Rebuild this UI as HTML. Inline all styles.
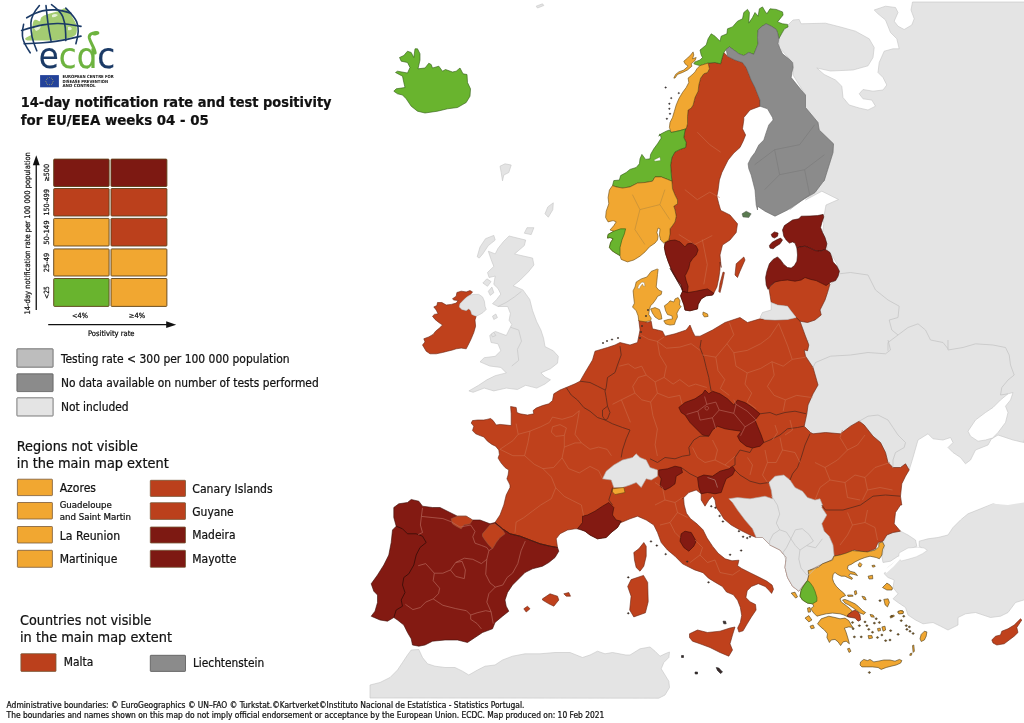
<!DOCTYPE html>
<html><head><meta charset="utf-8"><title>14-day notification rate and test positivity for EU/EEA</title>
<style>
html,body{margin:0;padding:0;background:#fff;}
body{width:1024px;height:723px;overflow:hidden;position:relative;font-family:"DejaVu Sans Condensed","Liberation Sans",sans-serif;}
svg{position:absolute;left:0;top:0;}
text{font-family:"DejaVu Sans Condensed","Liberation Sans",sans-serif;fill:#111;}
#legend text{stroke:#111;stroke-width:0.22px;}
#logo text{stroke:none;}
#map,#legend{filter:blur(0.35px);}
</style></head><body>
<svg width="1024" height="723" viewBox="0 0 1024 723" stroke-linejoin="round">
<g id="map">
<path d="M788,25 793,20 799.2,19.5 801,23.8 825.5,23.2 840.5,27 855.5,31.2 869.2,38.8 874.2,47.5 873,57.5 868,65.8 853,70 830.5,71 816.8,68 824.2,74.5 835.5,80 841.8,86.2 843,97.5 849.2,105 859.2,108 868,110 875.5,106.2 871.8,100 863,98.8 859.2,93.8 863,89.5 873,91.2 883,90 886.8,85 883,77.5 878,72.5 879.2,62.5 884.2,51.2 893,48.8 899.2,48.8 896.8,38.8 890.5,32.5 885.5,20 878,13.8 874.2,10 885.5,6.2 895.5,7.5 898,12.5 894.2,21.2 898,26.2 904.2,29.5 911.8,25 914.2,18.8 911,10 912.5,2 1032,2 1032,402 1023.8,442.5 1013,440 998,435 991.8,438.8 998,432.5 1005.5,422.5 1008,412.5 1005.5,406.2 1010.5,400 1013,392.5 1008,393.8 1000.5,400 993,407.5 985.5,412.5 975.5,420 968,431.2 970.5,436.2 978,441.2 985.5,440 991.8,438.2 988,445 975.5,450 970.5,460 965.5,463.8 960.5,457.5 953,452.5 948,447.5 953,442.5 950.5,437.5 943,440 933,438.8 928,433.8 918,440 913,457.5 909.2,470 905.5,463.8 900.5,467.5 893,467.5 888,462.5 885.5,452.5 880.5,442.5 873,436.2 864.2,425 859.2,421.2 850.5,426.2 840.5,433.8 825.5,432.5 813,433.8 810.5,432.5 804.2,426.2 806.8,413.8 808,405 813,393.8 818,385 813,367.5 805.5,356.2 804.2,350 808,340 807.5,350.8 808.8,345 805,335 800,321.2 807.5,322.5 815,320 821.2,315 820,310 825,300 827.5,292.5 830,285 836.2,278.8 839.5,271.2 836.2,262.5 832.5,256.2 827.5,250 826.2,242.5 822.5,232.5 823.8,223.8 822.5,214.5 824.2,215 826,205 838.5,199.5 821.8,191.2 805.5,200 815,192.5 822.5,182.5 826.2,170 824.2,180.8 833,152.5 833.5,143.8 819.2,130 818,122.5 805.5,107.5 805.5,95 793,75 793,62.5 779.2,47.5 779.2,37.5Z" fill="#e4e4e4" stroke="#c4c4c4" stroke-width="0.6"/>
<path d="M883.5,542 886.8,535 893,532.5 900.5,531.2 908,535 915.5,540 916.8,546.2 910.5,548.8 903,552.5 898,556.2 890.5,561.2 883,562.5 881.8,556.2 884.2,548.8Z" fill="#e4e4e4" stroke="#c4c4c4" stroke-width="0.6"/>
<path d="M919.2,541.2 928,538.8 938,537.5 948,535 953,527.5 960.5,520 968,513.8 980.5,508.8 993,503.8 1003,506.2 1018,507.5 1023.8,506.2 1032,506 1032,597.5 1015.5,602.5 1008,612.5 1000.5,616.2 990.5,617.5 983,615 975.5,612.5 965.5,613.8 958,617.5 958,625 948,630 940.5,626.2 933,622.5 923,623.8 915.5,620 908,615 905.5,607.5 898,602.5 893,598.8 898,593.8 893,587.5 894.2,580 888,577.5 884.2,573.8 888,567.5 895.5,561.2 903,557.5 910.5,553.8 918,551.2 923,548.8 919.2,546.2Z" fill="#e4e4e4" stroke="#c4c4c4" stroke-width="0.6"/>
<path d="M960.5,520.8 968,515 980.5,510 993,503.8 1008,505 1023.8,502.5 1032,502 1032,530 960,530Z" fill="#e4e4e4" stroke="none" stroke-width="0"/>
<path d="M370,685 380,682.5 390,677.5 397.5,670 402.5,662.5 407.5,655 411.2,650 418.8,649.5 422.5,657.5 427.5,663.8 435,666.2 445,667.5 455,667.5 462.5,671.2 468.8,675 477.5,670 485,666.2 495,665 502.5,660 512.5,656.2 525,653.8 540,653.8 555,652.5 570,652.5 582.5,657.5 590,655 597.5,651.2 605,653.8 612.5,652.5 625.8,655 630,655 640,648.8 650,647 655,651.2 660,656.2 665,653.8 669.5,652 668.8,657.5 663.8,662.5 661.2,668.8 665,675 668.8,681.2 669.5,687.5 665,695 658.8,698.2 370,698Z" fill="#e4e4e4" stroke="#c4c4c4" stroke-width="0.6"/>
<path d="M509.1,236 525.7,240.1 524.3,245.6 514.6,253.9 520.1,255.3 532.6,258.1 533.9,265 528.4,271.9 520.1,280.2 513.2,285.8 522.9,289.9 529.8,299.6 532.6,310.7 536.7,321.7 540.9,330 543.6,338.3 545,346.6 553.3,350.8 558.3,356.3 557.5,363.2 550.5,368.7 540.9,372.9 545,377 550.5,379.8 545,384 536.7,388.1 525.7,385.3 517.4,389.5 506.3,388.1 493.8,390.9 484.2,388.1 473.1,392.3 468.9,390.9 478.6,385.3 486.9,379.8 495.2,375.7 506.3,372.9 500.8,367.4 489.7,366 480,361.8 484.2,357.7 495.2,356.3 500.8,350.8 498,343.8 491.1,342.5 489.7,335.5 495.2,331.4 506.3,335.5 510.4,327.2 511.8,324.5 509.1,320.3 510.4,313.4 507.7,306.5 498,306.5 492.5,303.7 496.6,299.6 500.8,294.1 498,288.5 493.8,284.4 495.2,276.1 489.1,277.5 487.5,272.5 493.8,266.4 491.1,259.5 488.3,251.2 495.2,253.9 498,248.4 503.5,241.5Z" fill="#e4e4e4" stroke="#c4c4c4" stroke-width="0.6"/>
<path d="M477.2,256.7 480,247 485.5,238.7 493.8,235.4 495.2,240.1 488.3,245.6 482.8,253.9 479.2,258.1Z" fill="#e4e4e4" stroke="#c4c4c4" stroke-width="0.6"/>
<path d="M524.3,233.2 527,227.7 533.9,227.7 531.2,234.6Z" fill="#e4e4e4" stroke="#c4c4c4" stroke-width="0.6"/>
<path d="M545,213.8 547.8,206.9 553.3,202.8 552.8,209.7 548.3,217.2Z" fill="#e4e4e4" stroke="#c4c4c4" stroke-width="0.6"/>
<path d="M482.8,283 486.9,278.8 491.1,281.6 487.5,286.3Z" fill="#e4e4e4" stroke="#c4c4c4" stroke-width="0.6"/>
<path d="M488.3,291.3 491.9,287.1 493.8,292.7 490.2,295.4Z" fill="#e4e4e4" stroke="#c4c4c4" stroke-width="0.6"/>
<path d="M492.5,316.2 495.8,314 497.4,317.6 493.8,319.5Z" fill="#e4e4e4" stroke="#c4c4c4" stroke-width="0.6"/>
<path d="M491.1,334.2 493.8,332.2 495.8,335.5 492.5,336.9Z" fill="#e4e4e4" stroke="#c4c4c4" stroke-width="0.6"/>
<path d="M500,166.2 505,163.8 511.2,165 508.8,172.5 503.8,175 502.5,180.8 501.2,172.5Z" fill="#e4e4e4" stroke="#c4c4c4" stroke-width="0.6"/>
<path d="M536.2,6.2 542.5,3.8 543.8,5.5 537.5,8Z" fill="#e4e4e4" stroke="#c4c4c4" stroke-width="0.6"/>
<path d="M566.2,387.5 575,383.8 580,381.2 585,372.5 592.5,360 595,351.2 607.5,347.5 615,345 620,342.5 630,345 637.5,342.5 640,330 638.8,320 640,320 647.5,322.5 651.2,321.2 652.5,328.8 662.5,331.2 665,336.2 675,333.8 686.2,330 690,325 692.5,331.2 695,336.2 700,336.2 712.5,330 725,322.5 740,317.5 747.5,322.5 760,318.8 765,319.5 775,320 787.5,319.5 796.2,317.5 791.2,311.2 787.5,306.2 777.5,305 771.2,302.5 768.8,287.5 777.5,280 787.5,278.8 797.5,278.8 805,276.2 812.5,275 822.5,278.8 830,283.8 827.5,292.5 825,300 820,310 821.2,315 815,320 807.5,322.5 800,321.2 805,335 808.8,345 807.5,350.8 804.2,350 805.5,356.2 813,367.5 818,385 813,393.8 808,405 806.8,413.8 804.2,426.2 810.5,432.5 813,433.8 825.5,432.5 840.5,433.8 850.5,426.2 859.2,421.2 864.2,425 873,436.2 880.5,442.5 885.5,452.5 888,462.5 893,467.5 900.5,467.5 905.5,463.8 909.2,470 905.5,476.2 901.8,483.8 900.5,496.2 901.8,505 900.5,505 895.5,512.5 894.2,523.8 900.5,531.2 893,532.5 886.8,535 883,541.2 878,542.5 875.5,548.8 865.5,552.5 854.2,550 845.5,553.8 834.2,556.2 831.2,560 820,565 810,570 807.5,580 802.5,586.2 798.8,591.2 792.5,586.2 787.5,577.5 785,567.5 786.2,557.5 780,550 770,545 762.5,537.5 756.2,537.5 750,535 740,530 731.2,525 723.8,518.8 720,512.5 716.2,507.5 715,500 712.5,496.2 708.8,500 705,506.2 701.2,500 701.2,493.8 696.2,490 688.8,492.5 682.5,498.8 683.6,498 684.2,504.9 686.4,513.2 690.5,518.7 697.5,524.3 703,529.8 707.1,538.1 712.7,546.4 718.2,553.3 725.1,558.8 732,560.8 738.9,560.2 737.6,565.8 741.7,568.5 750,572.7 758.3,576.8 766.6,581 772.1,585.1 773.5,589.3 771.6,593.4 769.4,590.7 765.2,586.5 758.3,583.7 751.4,586.5 747.2,590.7 745.9,597.6 750,601.7 755.5,604.5 756.1,610 751.4,616.9 747.2,623.8 743.1,630.8 738.9,632.1 737.6,628 740.3,622.5 741.7,615.5 740.3,607.2 737.6,600.3 733.4,594.8 726.5,592 722.4,586.5 715.4,582.4 708.5,578.2 703,572.7 694.7,569.9 686.4,565.8 682.5,563.8 675,556.2 667.5,550 661.2,542.5 657.5,532.5 653.8,525 646.2,520 637.5,516.2 630,518.8 621.2,522.5 621.2,521.2 617.5,527.5 611.2,532.5 606.2,537.5 597.5,538.8 590,535 585,531.2 580,528.8 575,528.8 567.5,530 560,533.8 556.2,538.8 557.5,547.5 557.5,547.5 550,546.2 540,543.8 530,540 520,536.2 510,533.8 502.5,528.8 495,522.5 500,515 503.8,505 506.2,495 510,487.5 510,485 508.8,482.5 506.9,478.8 508.1,475 508.8,470 505,467.5 501.2,463.1 498.1,458.1 499.4,454.4 498.8,450 495.6,446.2 491.9,444.4 487.5,441.2 483.8,436.9 480,435.6 475.6,433.8 472.5,430.6 473.8,426.2 471.2,423.1 472.5,420.6 477.5,420 483.8,420 486.9,419.4 490.6,418.5 493.1,420.6 496.2,425 500,424.4 506.2,425 511.2,425.6 511.2,413.8 510.6,406.5 516.2,407.5 516.9,412.5 520,413.8 527.5,415 533.8,413.8 533.1,410.6 536.2,408.1 542.5,405.6 548.8,403.8 552.5,400.6 553.8,393.8 560,390Z" fill="#bf411c" stroke="#6a2410" stroke-width="0.6"/>
<path d="M760,317.5 762.5,312.5 771.2,310 771.2,302.5 777.5,305 787.5,306.2 791.2,311.2 796.2,317.5 787.5,319.5 775,320 765,319.5Z" fill="#e4e4e4" stroke="#c4c4c4" stroke-width="0.6"/>
<path d="M728.8,498.8 737.5,497.5 750,498.8 765,496.2 772.5,498.8 771.2,490 768.8,482.5 775,476.2 783.8,475 790,480 795,487.5 802.5,491.2 807.5,497.5 815,500 820,498.8 822.5,505 821.8,507.5 826.8,515 821.8,523.8 824.2,531.2 829.2,536.2 833,545 834.2,556.2 831.2,560 820,565 810,570 807.5,580 802.5,586.2 798.8,591.2 792.5,586.2 787.5,577.5 785,567.5 786.2,557.5 780,550 770,545 762.5,537.5 756.2,537.5 752.5,528.8 745,520 737.5,510 732.5,502.5Z" fill="#e4e4e4" stroke="#b0a8a4" stroke-width="0.6"/>
<path d="M602.5,478.8 606.2,471.2 613.8,465 622.5,460 632.5,457.5 636.2,453.8 640,457.5 646.2,460 650,467.5 657.5,470 657.5,476.2 651.2,480 646.2,478.8 641.2,487.5 636.2,482.5 630,485 622.5,487.5 613.8,487.5 611.2,480Z" fill="#e4e4e4" stroke="#b0a8a4" stroke-width="0.6"/>
<path d="M393.8,507.5 398.8,503.8 407.5,502.5 411.2,499.5 418.8,501.2 422.5,506.2 432.5,507.5 440,507.5 450,512.5 457.5,516.2 466.2,516.2 472.5,520 480,520 490,523.8 495,522.5 502.5,528.8 510,533.8 520,536.2 530,540 540,543.8 550,546.2 557.5,547.5 558.8,551.2 555,557.5 548.8,562.5 542.5,566.2 532.5,568.8 525,572.5 520,577.5 512.5,585 507.5,592.5 505,600 506.2,606.2 508.8,611.2 502.5,616.2 495,622.5 492.5,628.8 482.5,632.5 475,637.5 467.5,642.5 457.5,640 445,640 432.5,641.2 425,645 418.8,646.2 412.5,645 411.2,638.8 407.5,632.5 403.8,625 397.5,620 393.8,617.5 387.5,621.2 380,620 371.2,616.2 375,611.2 377.5,602.5 377.5,595 373.8,591.2 371.2,583.8 377.5,575 383.8,565 388.8,555 391.2,542.5 392.5,530 396.2,526.2 393.8,517.5Z" fill="#831a12" stroke="#3d0b07" stroke-width="0.6"/>
<path d="M451.2,518.8 457.5,516.2 466.2,516.2 472.5,520 470,523.8 463.8,525 461.2,528.8 456.2,526.2 452.5,523.8Z" fill="#bf411c" stroke="#9a5a40" stroke-width="0.6"/>
<path d="M482.5,533.8 490,525 495,523.8 502.5,530 505,533.8 500,537.5 496.2,542.5 492.5,548.8 488.8,545 485,540 482.5,536.2Z" fill="#bf411c" stroke="#9a5a40" stroke-width="0.6"/>
<path d="M542.5,598.8 550,593.8 557.5,596.2 558.8,600 553.8,606.2 548.8,603.8 542.5,600Z" fill="#bf411c" stroke="#6a2410" stroke-width="0.6"/>
<path d="M563.8,593.8 568.8,592.5 570.5,596.2 566.2,596.2Z" fill="#bf411c" stroke="#6a2410" stroke-width="0.6"/>
<path d="M523.8,608.8 527.5,606.2 530,608.8 526.2,612Z" fill="#bf411c" stroke="#6a2410" stroke-width="0.6"/>
<path d="M396.2,526.2 402.5,528.8 407.5,533.8 416.2,533.8 422.5,536.2 426.2,542.5 420,547.5 416.2,555 413.8,565 408.8,573.8 403.8,577.5 402.5,585 405,592.5 401.2,600 402.5,606.2 396.2,610 393.8,617.5" fill="none" stroke="#3d0d08" stroke-width="0.9"/>
<path d="M557.5,547.5 550,546.2 540,543.8 530,540 520,536.2 510,533.8 502.5,528.8 495,522.5" fill="none" stroke="#4a1a10" stroke-width="0.8"/>
<path d="M577.5,528.8 582.5,522.5 582.5,516.2 587.5,515 595,511.2 602.5,506.2 608.8,502.5 613.8,507.5 612.5,515 616.2,520 621.2,521.2 617.5,527.5 611.2,532.5 606.2,537.5 597.5,538.8 590,535 585,531.2Z" fill="#831a12" stroke="#3d0b07" stroke-width="0.6"/>
<path d="M612.5,488.8 623.8,487.5 625,492.5 615,494.5 612.5,492Z" fill="#f1a731" stroke="#6a4a10" stroke-width="0.6"/>
<path d="M678.8,407.5 685,402.5 695,398.8 702.5,393.8 705,390 708.8,393.8 712.5,391.2 720,393.8 727.5,398.8 733.8,405 737.5,400 745,402.5 752.5,407.5 760,413.8 755,420 757.5,426.2 761.2,435 763.8,442.5 760,446.2 752.5,448 746.2,446.2 740,441.2 737.5,436.2 741.2,431.2 732.5,430 725,428.8 717.5,426.2 712.5,430 708.8,436.2 702.5,435 697.5,430 690,422.5 685,415 681.2,412.5Z" fill="#831a12" stroke="#3d0b07" stroke-width="0.6"/>
<path d="M658.8,470 667.5,468.8 675,466.2 681.2,467.5 682.5,472.5 676.2,476.2 675,483.8 670,487.5 665,490 660,486.2 661.2,478.8 658.8,475Z" fill="#831a12" stroke="#3d0b07" stroke-width="0.6"/>
<path d="M697.5,477.5 703.8,475 712.5,476.2 720,471.2 728.8,468.8 732.5,466.2 735,470 732.5,475 726.2,478.8 723.8,485 721.2,492.5 715,493.8 707.5,492.5 701.2,493.8 698.8,487.5Z" fill="#831a12" stroke="#3d0b07" stroke-width="0.6"/>
<path d="M681.2,533.8 685,531.2 691.2,532.5 696.2,541.2 693.8,546.2 688.8,551.2 683.8,547.5 680,541.2Z" fill="#831a12" stroke="#3d0b07" stroke-width="0.6"/>
<path d="M633.8,552.5 638.8,548.8 643.8,542.5 646.2,546.2 646.2,556.2 643.8,566.2 640,571.2 636.2,567.5 634.5,560Z" fill="#bf411c" stroke="#6a2410" stroke-width="0.6"/>
<path d="M631.1,579.6 643.5,575.4 647.7,582.4 648.2,601.7 645.4,612.8 633.8,616.9 629.7,610 631.1,596.2 627.7,586.5Z" fill="#bf411c" stroke="#6a2410" stroke-width="0.6"/>
<path d="M689.5,633.8 697.5,630 707.5,632.5 720,631.2 730,628 735,627 732.5,635 730,643.8 732.5,650 728.8,656.2 720,652.5 710,647.5 700,643.8 692.5,641.2 689.5,637.5Z" fill="#bf411c" stroke="#6a2410" stroke-width="0.6"/>
<path d="M716.2,667.5 718.8,668 722.5,672 720.5,673.5 717.5,670.5Z" fill="#3a2a2a" stroke="#222" stroke-width="0.6"/>
<path d="M695,672 697.5,672 697.5,674 695.2,674Z" fill="#3a2a2a" stroke="#222" stroke-width="0.6"/>
<path d="M681.5,655.5 683.5,655.5 683.5,657.5 681.5,657.5Z" fill="#3a2a2a" stroke="#222" stroke-width="0.6"/>
<path d="M723,621.2 725.5,621.2 726.2,623.8 723.8,623.8Z" fill="#3a2a2a" stroke="#222" stroke-width="0.6"/>
<path d="M452.5,298.8 456.2,296.2 456.9,292.5 461.2,291.2 466.2,291.9 470,290.6 472.5,291.9 470,295 466.2,297.5 463.1,300.6 460,303.8 459.4,306.9 461.9,309.4 466.2,310.6 468.8,308.8 470.6,310.6 471.9,314.4 476.2,316.2 475,320 475.6,326.2 473.8,332.5 471.2,338.8 468.8,343.8 466.2,348.8 461.2,348.1 456.2,348.8 452.5,350 447.5,351.2 442.5,352.5 436.2,353.8 430,353.8 426.2,351.2 422.5,345 425,341.9 423.8,338.8 428.8,336.9 433.1,334.4 435.6,331.2 439.4,328.1 442.5,325 438.8,322.5 435,319.4 432.5,316.2 434.4,314.4 438.1,313.8 436.2,310 433.8,306.9 436.9,305.6 437.5,302.5 441.9,302.5 446.2,305 451.2,304.4 456.2,303.1 458.1,300.6 453.8,300Z" fill="#bf411c" stroke="#6a2410" stroke-width="0.6"/>
<path d="M463.1,300.6 466.2,297.5 470,295 473.8,294.4 478.8,294.4 482.5,296.9 484.4,301.2 485,306.2 486.2,309.4 483.1,312.5 480,314.4 476.2,316.2 471.9,314.4 470.6,310.6 468.8,308.8 466.2,310.6 461.9,309.4 459.4,306.9 460,303.8Z" fill="#e4e4e4" stroke="#c4c4c4" stroke-width="0.6"/>
<path d="M657.5,268.9 651.2,271.4 646.9,277 641.2,278.9 636.2,282 635,287 633.1,290.8 633.8,298.2 634.4,303.2 632.5,307 636.2,310.8 638.1,315.8 638.8,320.8 645,321.8 650.6,320.8 651.2,318.2 648.8,314.5 649.4,309.5 650.6,305.8 653.1,303.2 656.2,298.9 657.5,296.4 661.2,294.5 661.9,291.4 658.8,290.1 656.2,287 656.9,280.8 657.5,274.5 658.1,269.5Z" fill="#f1a731" stroke="#6a4a10" stroke-width="0.6"/>
<path d="M650.6,308.9 655,307.6 659.4,309.5 661.2,314.5 661.9,318.9 658.8,319.5 655,317 652.5,313.2Z" fill="#f1a731" stroke="#6a4a10" stroke-width="0.6"/>
<path d="M664.4,305.8 668.1,303.2 670,300.8 673.8,302 675,298.9 678.1,297.6 680,300.8 679.4,305.1 681.2,306.4 678.8,309.5 676.9,313.2 677.5,317 675.6,320.8 674.4,324.5 670,325.1 665.6,323.9 663.8,320.8 668.1,319.5 672.5,318.9 671.9,315.8 667.5,314.5 665.6,310.8Z" fill="#f1a731" stroke="#6a4a10" stroke-width="0.6"/>
<path d="M703.1,312 707.5,313.9 708.1,316.4 704.4,317 702.8,314.5Z" fill="#f1a731" stroke="#6a4a10" stroke-width="0.6"/>
<path d="M638.8,285.1 641.9,282 644.4,282.6 645,286.4 643.1,285.8 642.5,283.9 640.6,286.4 639.4,288.9 637.5,288.2Z" fill="#fff" stroke="#8a6a30" stroke-width="0.4"/>
<path d="M723.8,52.5 727.5,56.2 735,60 742.5,62.5 746.2,67.5 748.8,73.8 751.2,80 755,87.5 760,100 760,106.2 750,110 743.8,117.5 743.8,120 742.5,128.8 745.6,135 743.1,141.2 740,147.5 733.8,153.1 728.1,160 725,166.2 721.9,172.5 719.4,180 718.1,190 716.9,196.2 718.8,203.8 720.6,210 720,210 730,215 737.5,223.8 736.2,232.5 730,240 722.5,245 720,255 721.2,267.5 720,262 720,269.5 718.8,278.2 716.9,287 713.8,293.2 712.5,295.1 706.2,295.8 701.2,298.9 698.1,304.5 697.5,308.9 690,310.8 685,310.1 683.8,304.5 681.9,299.5 680.6,295.8 682.5,291.4 682.5,290 681.2,285 677.5,280 673.8,273.8 670.6,267.5 668.1,261.2 665.6,253.8 664.4,247.5 665.6,241.9 668.8,240 670,233.8 670,228.8 672.5,225.6 675,221.9 676.2,216.2 675,210 673.8,206.2 677.5,203.8 677.5,200 675,195 672.5,188.8 671.9,181.2 671.2,173.8 670.6,165 671.9,157.5 675,151.9 680,149.4 685.6,147.5 686.2,142.5 683.8,137.5 685,130 686.2,128.8 687.5,123.8 687.5,116.2 688.1,110 691.2,108.1 693.1,105 695,97.5 698.1,91.2 698.8,85 700.6,78.1 703.8,73.8 707.5,72.5 709.4,68.8 708.1,63.1 715,62.5 720.6,63.8 721.9,58.8 723.8,52.5Z" fill="#bf411c" stroke="#6a2410" stroke-width="0.6"/>
<path d="M665,242.5 670,240.6 675,240 680,241.9 685,246.9 687.5,243.8 692.5,243.1 696.2,246.2 698.1,250 696.2,255 692.5,258.8 690,262.5 688.8,268.1 686.2,273.8 685,275.8 686.2,280.8 688.1,286.4 687.5,292.6 682.5,291.4 681.2,287 677.5,280.8 673.8,274.5 670,268.2 682.5,290 681.2,285 677.5,280 673.8,273.8 670.6,267.5 668.1,261.2 665.6,253.8 664.4,247.5Z" fill="#831a12" stroke="#3d0b07" stroke-width="0.6"/>
<path d="M680.6,295.8 682.5,291.4 687.5,292.6 695,291.4 701.2,290.1 707.5,288.9 713.8,293.2 712.5,295.1 706.2,295.8 701.2,298.9 698.1,304.5 697.5,308.9 690,310.8 685,310.1 683.8,304.5 681.9,299.5Z" fill="#831a12" stroke="#3d0b07" stroke-width="0.6"/>
<path d="M718.8,291.4 720,283.2 723.1,272 724.4,272.6 721.9,285.1 720,292.6Z" fill="#bf411c" stroke="#6a2410" stroke-width="0.6"/>
<path d="M735,275 736.2,263.8 743.8,257 745,260 740,271.2 737.5,277.5Z" fill="#bf411c" stroke="#6a2410" stroke-width="0.6"/>
<path d="M700,65.6 697.5,65 693.8,63.8 695,61.9 700,60 702.5,57.5 701.2,55 700,50 706.2,45 708.1,38.8 711.2,33.8 715,36.2 720,41.2 721.2,36.2 726.9,33.8 727.5,28.8 732.5,26.9 737.5,21.2 742.5,18.8 743.8,12.5 747.5,9.4 749.4,12.5 748.8,23.1 752.5,17.5 755,12.5 758.1,16.2 759.4,8.8 762.5,6.9 765,11.2 766.9,13.8 770,8.8 776.2,9.4 782.5,11.9 783.1,15 777.5,21.9 782.5,23.8 787.5,24.4 788.1,26.9 784.4,28.8 781.9,33.1 778.8,38.8 777.5,32.5 776.2,29.4 771.2,26.2 766.2,23.8 761.2,26.9 758.1,30 757.5,37.5 758.1,43.8 755.6,50 753.8,54.4 748.8,52.5 743.8,55.6 738.8,53.8 733.8,50 729.4,46.9 726.2,49.4 723.8,52.5 721.9,58.8 720.6,63.8 715,62.5 708.1,63.1Z" fill="#69b42e" stroke="#2f5a14" stroke-width="0.6"/>
<path d="M700,65.6 708.1,63.1 709.4,68.8 707.5,72.5 703.8,73.8 700.6,78.1 698.8,85 698.1,91.2 695,97.5 693.1,105 691.2,108.1 688.1,110 687.5,116.2 687.5,123.8 686.2,128.8 680,130.6 671.2,132.5 669.4,127.5 670,122.5 672.5,117.5 674.4,111.2 676.2,105 678.8,98.8 682.5,92.5 686.2,87.5 688.8,82.5 688.1,78.1 691.9,75 695,71.9 696.9,68.8Z" fill="#f1a731" stroke="#6a4a10" stroke-width="0.6"/>
<path d="M673.8,78.1 675.6,74.4 678.8,71.9 683.8,70 688.1,66.2 685,63.8 683.8,61.2 687.5,58.1 690.6,55 693.1,51.9 693.8,55 692.5,58.8 696.2,57.5 695,60.6 691.2,63.8 691.9,66.2 687.5,70 682.5,72.5 677.5,74.4 675,78.1Z" fill="#f1a731" stroke="#6a4a10" stroke-width="0.6"/>
<path d="M686.2,128.8 680,130.6 671.2,132.5 669.4,130 666.2,131.2 661.2,133.8 658.8,136.2 660,133.8 661.2,138.1 657.5,143.8 653.8,148.8 650.6,154.4 650,158.8 645.6,159.4 641.9,154.4 640,158.8 639.4,163.8 636.2,167.5 630,169.4 626.2,172.5 620.6,175.6 619.4,180 613.8,180.6 612.5,185.6 616.2,186.9 622.5,188.1 630,186.9 637.5,183.1 645,182.5 652.5,181.2 655,176.9 661.2,176.9 667.5,179.4 671.9,181.2 671.2,173.8 670.6,165 671.9,157.5 675,151.9 680,149.4 685.6,147.5 686.2,142.5 683.8,137.5 685,130Z" fill="#69b42e" stroke="#2f5a14" stroke-width="0.6"/>
<path d="M653.8,160 660,156.9 660.6,160.6 655,161.2Z" fill="#fff" stroke="#4a7a20" stroke-width="0.4"/>
<path d="M612.5,185.6 609.4,190 608.1,197.5 608.8,203.8 606.2,211.2 605.6,217.5 608.1,221.9 613.1,220.6 616.2,221.9 613.8,225.6 610,230 613.8,231.2 608.1,234.4 607.5,238.1 610,237.5 613.1,238.8 610.6,242.5 609.4,247.5 611.9,250.6 615.6,253.1 620,255.6 621.2,259.4 627.5,261.9 633.8,260 640,256.2 645,251.9 649.4,246.9 655,243.1 657.5,240 658.1,236.2 656.9,232.5 658.1,228.1 660,228.8 659.4,235 660.6,240 663.8,243.1 665.6,241.9 668.8,240 670,233.8 670,228.8 672.5,225.6 675,221.9 676.2,216.2 675,210 673.8,206.2 677.5,203.8 677.5,200 675,195 672.5,188.8 671.9,181.2 667.5,179.4 661.2,176.9 655,176.9 652.5,181.2 645,182.5 637.5,183.1 630,186.9 622.5,188.1 616.2,186.9Z" fill="#f1a731" stroke="#6a4a10" stroke-width="0.6"/>
<path d="M607.5,238.1 608.1,234.4 613.8,231.2 620.6,228.8 625.6,228.8 624.4,233.8 621.9,240 620,247.5 620,255.6 615.6,253.1 611.9,250.6 609.4,247.5 610.6,242.5 613.1,238.8 610,237.5Z" fill="#69b42e" stroke="#2f5a14" stroke-width="0.6"/>
<path d="M726.2,49.4 729.4,46.9 733.8,50 738.8,53.8 743.8,55.6 748.8,52.5 753.8,54.4 755.6,50 758.1,43.8 757.5,37.5 758.1,30 761.2,26.9 766.2,23.8 771.2,26.2 776.2,29.4 777.5,32.5 778.8,38.8 778.1,43.8 780,48.8 782.5,53.8 788.8,58.8 792.5,62.5 793.1,67.5 791.9,72.5 791.2,77.5 796.2,83.8 801.2,90 805.5,95 805.5,107.5 818,122.5 819.2,130 833.5,143.8 833,152.5 824.2,180.8 822.5,182.5 815,192.5 802.5,200 787.5,210 775,216.2 765,211.2 757.5,206.2 757.5,210 756.2,205 755.6,197.5 755,190 753.1,182.5 751.2,175 748.8,168.8 748.1,163.8 751.2,157.5 755,152.5 758.8,145 763.8,140 766.2,132.5 768.8,125 773.1,120 772.5,117.5 767.5,108.8 760,106.2 760,100 755,87.5 751.2,80 748.8,73.8 746.2,67.5 742.5,62.5 735,60 727.5,56.2Z" fill="#8b8b8b" stroke="#666" stroke-width="0.6"/>
<path d="M742,213.8 746.2,211.2 751.2,213.8 748.8,217.5 743,217Z" fill="#5a7a50" stroke="#444" stroke-width="0.4"/>
<path d="M782.5,230 784.4,225.6 788.1,223.1 792.5,220 798.8,218.8 801.2,216.2 810,216 817.5,215.6 823.1,214.4 823.8,216.9 821.9,222.5 820.6,227.5 822.5,232.5 825,237.5 826.9,243.8 825.6,249.4 820,251.2 815,250.6 810,248.1 805,246.2 800,246.9 796.9,248.1 795,243.1 792.5,241.9 789.4,243.1 786.2,240 783.8,236.2 783.1,232.5Z" fill="#831a12" stroke="#3d0b07" stroke-width="0.6"/>
<path d="M771.2,234.4 774.4,231.9 778.1,233.1 777.5,236.2 774.4,238.1 772.2,236.9Z" fill="#831a12" stroke="#3d0b07" stroke-width="0.6"/>
<path d="M769.4,245.6 771.9,242.5 776.2,240 780.6,238.1 782.5,240 780,243.8 776.2,246.2 773.1,248.8 770,248.1Z" fill="#831a12" stroke="#3d0b07" stroke-width="0.6"/>
<path d="M796.9,248.1 800,246.9 805,246.2 810,248.1 815,250.6 820,251.2 825.6,249.4 830,252.5 831.9,257.5 833.1,261.9 836.9,266.2 839.4,271.2 838.1,276.2 835.6,280.6 830,282.5 826.2,285.6 821.2,283.1 816.2,280.6 810.6,279.4 805,277.5 801.2,280 795,281.2 787.5,280 781.2,280.6 775,281.9 770,286.2 768.1,289.4 766.2,285 765.6,277.5 766.9,271.2 769.4,263.8 773.1,259.4 777.5,256.9 780.6,260 783.8,264.4 787.5,267.5 791.2,268.1 794.4,265.6 796.9,261.2 797.5,255Z" fill="#831a12" stroke="#3d0b07" stroke-width="0.6"/>
<path d="M807.5,580.6 808.8,575 808.1,570.6 812.5,569.4 818.8,566.9 822.5,563.8 827.5,561.9 832.5,560 833.8,556.2 840,555 846.2,553.1 852.5,550.6 860,551.2 867.5,551.9 875,550 878.8,546.9 878.8,543.1 882.5,541.9 884.4,545.6 882.5,550 881.9,555 879.4,558.8 876.2,557.5 870,556.2 865,557.5 860,559.4 855,561.9 851.2,564.4 848.1,565.6 847.5,568.8 850,571.2 855,572.5 857.5,575.6 853.8,574.4 850,573.8 848.8,575.6 852.5,578.1 851.9,579.4 847.5,577.5 845,576.2 841.2,576.2 837.5,574.4 835,572.5 833.1,574.4 832.5,578.8 833.8,582.5 836.2,586.2 840,590 843.8,593.1 845.6,595.6 842.5,596.9 840,598.8 841.2,601.9 843.8,603.8 846.9,606.2 850,608.8 852.5,611.2 847.5,615 848.1,616.9 843.8,615 840,613.8 832.5,613.1 826.2,613.8 821.2,615 816.9,616.2 813.8,613.1 810.6,608.8 813.8,606.2 812.5,603.8 807.5,603.1 802.5,600 800,596.2 801.2,590 803.8,585.6Z" fill="#f1a731" stroke="#4a3a1a" stroke-width="0.6"/>
<path d="M800,596.2 801.2,590 803.8,585.6 807.5,580.6 810,582.5 813.1,586.9 815,591.2 816.9,597.5 816.9,601.2 812.5,603.8 807.5,603.1 802.5,600Z" fill="#69b42e" stroke="#3a5a1a" stroke-width="0.6"/>
<path d="M847.5,615 852.5,611.2 855,610 858.1,611.9 860,615 860.6,620 858.1,621.2 855,618.1 851.2,617.5 848.1,616.9Z" fill="#bf411c" stroke="#4a1a10" stroke-width="0.6"/>
<path d="M842.5,600 845,599.4 849.4,601.2 855,603.8 858.1,606.2 862.5,610.6 865.6,612.5 863.8,614.4 860,613.1 856.2,610 852.5,607.5 848.8,605 845,603.1Z" fill="#f1a731" stroke="#4a3a1a" stroke-width="0.6"/>
<path d="M817.5,623.8 821.2,618.8 828.8,616.2 835,617.5 840,618.8 845,618.1 848.8,620.6 851.2,625 853.1,627.5 848.8,626.9 844.4,628.1 846.2,632.5 848.1,638.8 849.4,643.8 846.2,641.2 843.1,641.9 840.6,645.6 838.1,641.9 835,639.4 831.2,640 829.4,642.5 826.9,637.5 827.5,633.8 824.4,630 820.6,626.9Z" fill="#f1a731" stroke="#4a3a1a" stroke-width="0.6"/>
<path d="M860,665 860.6,661.9 863.8,659.4 867.5,660.6 870,659.4 873.8,661.9 878.1,661.2 883.8,660 890,660 895,661.2 899.4,659.4 901.9,660.6 900.6,663.1 896.2,665 891.2,666.2 886.2,667.5 881.2,669.4 878.1,667.5 872.5,666.9 866.2,666.9 861.9,666.9Z" fill="#f1a731" stroke="#4a3a1a" stroke-width="0.6"/>
<path d="M858.1,564.4 860,562.5 861.9,564.4 860.6,566.9 858.8,566.5Z" fill="#f1a731" stroke="#4a3a1a" stroke-width="0.6"/>
<path d="M871.9,565.6 874.4,565 875.2,566.5 872.8,567.2Z" fill="#f1a731" stroke="#4a3a1a" stroke-width="0.6"/>
<path d="M868.1,576.2 872.5,575.2 872.8,578.8 869,579Z" fill="#f1a731" stroke="#4a3a1a" stroke-width="0.6"/>
<path d="M882.5,587.5 886.9,583.1 890,585 892.5,588.1 891.9,590 886.9,590Z" fill="#f1a731" stroke="#4a3a1a" stroke-width="0.6"/>
<path d="M883.8,599.4 888.1,598.8 889.4,602.5 887.5,606.9 885.2,605Z" fill="#f1a731" stroke="#4a3a1a" stroke-width="0.6"/>
<path d="M861.9,596.2 865,596.9 866.2,600 863.8,599.4Z" fill="#f1a731" stroke="#4a3a1a" stroke-width="0.6"/>
<path d="M847.5,595 852.5,595 853.1,596.2 848.1,596.5Z" fill="#f1a731" stroke="#4a3a1a" stroke-width="0.6"/>
<path d="M854.4,591.2 856.2,590.6 856.9,593.8 855,595Z" fill="#f1a731" stroke="#4a3a1a" stroke-width="0.6"/>
<path d="M791.2,593.1 795,592.2 797.5,596.9 795.6,598.1Z" fill="#f1a731" stroke="#4a3a1a" stroke-width="0.6"/>
<path d="M807.5,608.1 810,607.5 810.6,611.9 808.1,612.2Z" fill="#f1a731" stroke="#4a3a1a" stroke-width="0.6"/>
<path d="M805,618.1 808.8,615.6 811.9,620 808.8,621.9Z" fill="#f1a731" stroke="#4a3a1a" stroke-width="0.6"/>
<path d="M810,626.2 813.1,625 814.4,628.1 811.2,628.8Z" fill="#f1a731" stroke="#4a3a1a" stroke-width="0.6"/>
<path d="M898.1,611.2 902.5,610.6 903.1,613.1 898.8,613.8Z" fill="#f1a731" stroke="#4a3a1a" stroke-width="0.6"/>
<path d="M890,616.2 893.8,615 894.4,616.2 890.6,618.1Z" fill="#f1a731" stroke="#4a3a1a" stroke-width="0.6"/>
<path d="M920,638.8 921.2,634.4 924.4,631.2 926.9,631.9 926.2,636.2 924.4,640 921.2,641.5Z" fill="#f1a731" stroke="#4a3a1a" stroke-width="0.6"/>
<path d="M912.5,645.6 913.8,645 914.4,651.2 913.1,652.5Z" fill="#f1a731" stroke="#4a3a1a" stroke-width="0.6"/>
<path d="M910,653.8 911.9,653.1 911.5,655.2 909.8,655.4Z" fill="#f1a731" stroke="#4a3a1a" stroke-width="0.6"/>
<path d="M847.5,648.8 849.4,648.1 851,651.2 849,652.5Z" fill="#f1a731" stroke="#4a3a1a" stroke-width="0.6"/>
<path d="M897.5,611.9 900.6,610.6 903.5,611.5 903.1,613.5 899.4,614Z" fill="#f1a731" stroke="#4a3a1a" stroke-width="0.6"/>
<path d="M870,614.4 873.1,615 874.4,617.2 871.2,616.9Z" fill="#f1a731" stroke="#4a3a1a" stroke-width="0.6"/>
<path d="M881.9,626.9 885,626.2 885.6,630 883.1,631.2Z" fill="#f1a731" stroke="#4a3a1a" stroke-width="0.6"/>
<path d="M877.5,628.5 880.2,628.1 880.6,630.6 878.1,631.2Z" fill="#f1a731" stroke="#4a3a1a" stroke-width="0.6"/>
<path d="M868.1,635.6 871.9,635.6 872.5,638.1 868.8,638.8Z" fill="#f1a731" stroke="#4a3a1a" stroke-width="0.6"/>
<path d="M877.35,618.75 877.03,619.37 876.25,619.63 875.47,619.37 875.15,618.75 875.47,618.13 876.25,617.87 877.03,618.13Z" fill="#7a5a20" stroke="#3a3020" stroke-width="0.5"/>
<path d="M866.1,621.88 865.78,622.5 865,622.75 864.22,622.5 863.9,621.88 864.22,621.25 865,621 865.78,621.25Z" fill="#7a5a20" stroke="#3a3020" stroke-width="0.5"/>
<path d="M867.98,625.62 867.65,626.25 866.88,626.5 866.1,626.25 865.77,625.62 866.1,625 866.88,624.75 867.65,625Z" fill="#7a5a20" stroke="#3a3020" stroke-width="0.5"/>
<path d="M869.85,629.38 869.53,630 868.75,630.25 867.97,630 867.65,629.38 867.97,628.75 868.75,628.5 869.53,628.75Z" fill="#7a5a20" stroke="#3a3020" stroke-width="0.5"/>
<path d="M873.6,632.25 873.28,632.87 872.5,633.13 871.72,632.87 871.4,632.25 871.72,631.63 872.5,631.37 873.28,631.63Z" fill="#7a5a20" stroke="#3a3020" stroke-width="0.5"/>
<path d="M862.35,636.88 862.03,637.5 861.25,637.75 860.47,637.5 860.15,636.88 860.47,636.25 861.25,636 862.03,636.25Z" fill="#7a5a20" stroke="#3a3020" stroke-width="0.5"/>
<path d="M855.48,636.88 855.15,637.5 854.38,637.75 853.6,637.5 853.27,636.88 853.6,636.25 854.38,636 855.15,636.25Z" fill="#7a5a20" stroke="#3a3020" stroke-width="0.5"/>
<path d="M880.48,622.5 880.15,623.12 879.38,623.38 878.6,623.12 878.27,622.5 878.6,621.88 879.38,621.62 880.15,621.88Z" fill="#7a5a20" stroke="#3a3020" stroke-width="0.5"/>
<path d="M875.48,623.12 875.15,623.75 874.38,624 873.6,623.75 873.27,623.12 873.6,622.5 874.38,622.25 875.15,622.5Z" fill="#7a5a20" stroke="#3a3020" stroke-width="0.5"/>
<path d="M882.98,635 882.65,635.62 881.88,635.88 881.1,635.62 880.77,635 881.1,634.38 881.88,634.12 882.65,634.38Z" fill="#7a5a20" stroke="#3a3020" stroke-width="0.5"/>
<path d="M878.6,637.5 878.28,638.12 877.5,638.38 876.72,638.12 876.4,637.5 876.72,636.88 877.5,636.62 878.28,636.88Z" fill="#7a5a20" stroke="#3a3020" stroke-width="0.5"/>
<path d="M886.73,640.62 886.4,641.25 885.62,641.5 884.85,641.25 884.52,640.62 884.85,640 885.62,639.75 886.4,640Z" fill="#7a5a20" stroke="#3a3020" stroke-width="0.5"/>
<path d="M891.1,640 890.78,640.62 890,640.88 889.22,640.62 888.9,640 889.22,639.38 890,639.12 890.78,639.38Z" fill="#7a5a20" stroke="#3a3020" stroke-width="0.5"/>
<path d="M891.73,630.62 891.4,631.25 890.62,631.5 889.85,631.25 889.52,630.62 889.85,630 890.62,629.75 891.4,630Z" fill="#7a5a20" stroke="#3a3020" stroke-width="0.5"/>
<path d="M899.23,634.38 898.9,635 898.12,635.25 897.35,635 897.02,634.38 897.35,633.75 898.12,633.5 898.9,633.75Z" fill="#7a5a20" stroke="#3a3020" stroke-width="0.5"/>
<path d="M892.98,616.25 892.65,616.87 891.88,617.13 891.1,616.87 890.77,616.25 891.1,615.63 891.88,615.37 892.65,615.63Z" fill="#7a5a20" stroke="#3a3020" stroke-width="0.5"/>
<path d="M904.85,616.25 904.53,616.87 903.75,617.13 902.97,616.87 902.65,616.25 902.97,615.63 903.75,615.37 904.53,615.63Z" fill="#7a5a20" stroke="#3a3020" stroke-width="0.5"/>
<path d="M902.35,620.62 902.03,621.25 901.25,621.5 900.47,621.25 900.15,620.62 900.47,620 901.25,619.75 902.03,620Z" fill="#7a5a20" stroke="#3a3020" stroke-width="0.5"/>
<path d="M907.35,625.62 907.03,626.25 906.25,626.5 905.47,626.25 905.15,625.62 905.47,625 906.25,624.75 907.03,625Z" fill="#7a5a20" stroke="#3a3020" stroke-width="0.5"/>
<path d="M910.48,626.88 910.15,627.5 909.38,627.75 908.6,627.5 908.27,626.88 908.6,626.25 909.38,626 910.15,626.25Z" fill="#7a5a20" stroke="#3a3020" stroke-width="0.5"/>
<path d="M907.98,629.38 907.65,630 906.88,630.25 906.1,630 905.77,629.38 906.1,628.75 906.88,628.5 907.65,628.75Z" fill="#7a5a20" stroke="#3a3020" stroke-width="0.5"/>
<path d="M911.1,631.25 910.78,631.87 910,632.13 909.22,631.87 908.9,631.25 909.22,630.63 910,630.37 910.78,630.63Z" fill="#7a5a20" stroke="#3a3020" stroke-width="0.5"/>
<path d="M914.23,633.5 913.9,634.12 913.12,634.38 912.35,634.12 912.02,633.5 912.35,632.88 913.12,632.62 913.9,632.88Z" fill="#7a5a20" stroke="#3a3020" stroke-width="0.5"/>
<path d="M853.6,622.5 853.28,623.12 852.5,623.38 851.72,623.12 851.4,622.5 851.72,621.88 852.5,621.62 853.28,621.88Z" fill="#7a5a20" stroke="#3a3020" stroke-width="0.5"/>
<path d="M854.23,628.75 853.9,629.37 853.12,629.63 852.35,629.37 852.02,628.75 852.35,628.13 853.12,627.87 853.9,628.13Z" fill="#7a5a20" stroke="#3a3020" stroke-width="0.5"/>
<path d="M860.48,625.62 860.15,626.25 859.38,626.5 858.6,626.25 858.27,625.62 858.6,625 859.38,624.75 860.15,625Z" fill="#7a5a20" stroke="#3a3020" stroke-width="0.5"/>
<path d="M870.48,672.5 870.15,673.12 869.38,673.38 868.6,673.12 868.27,672.5 868.6,671.88 869.38,671.62 870.15,671.88Z" fill="#7a5a20" stroke="#3a3020" stroke-width="0.5"/>
<path d="M881.1,600.62 880.78,601.25 880,601.5 879.22,601.25 878.9,600.62 879.22,600 880,599.75 880.78,600Z" fill="#7a5a20" stroke="#3a3020" stroke-width="0.5"/>
<path d="M991.8,640 995.5,636.2 1000.5,635 1001.8,631.2 1008,628.8 1014.2,625 1020.5,618.8 1021.8,620 1016.8,627.5 1018,632.5 1014.2,636.2 1009.2,640 1004.2,643.8 996.8,645 993,643Z" fill="#bf411c" stroke="#6a2410" stroke-width="0.6"/>
<path d="M393.8,91.2 396.2,88.8 405,87.5 403.8,82.5 402.5,76.2 395.5,72.5 397.5,71.2 407.5,73 410,67.5 407.5,62.5 401.2,61.2 399.5,57.5 403.8,55.5 407.5,51.2 411.2,52.5 413.8,57.5 415,48.8 417.5,48.8 420,53.8 420,60 418,68.8 425,68 428.8,63.2 431.2,64.5 432.5,68 438.8,66.2 442.5,71.2 445.5,69.5 452.5,72 456.2,71.2 460,68 463,73.8 467,74.5 467.5,82.5 470.5,88.8 470,96.2 466.2,102.5 457.5,107.5 447.5,108.8 437.5,111.2 425,113 417.5,111.2 411.2,106.2 406.2,98.8 402.5,95 397.5,93.8Z" fill="#69b42e" stroke="#2f5a14" stroke-width="0.6"/>
<path d="M566.2,387.5 571.2,395 577.5,400 583.8,407.5 590,411.2 597.5,417.5 605,420 612.5,423.8 622.5,427.5 630,430 626.2,438.8 622.5,450 621.2,457.5" fill="none" stroke="#5a2a1c" stroke-width="0.8"/>
<path d="M580,381.2 590,382.5 597.5,386.2 605,390" fill="none" stroke="#5a2a1c" stroke-width="0.8"/>
<path d="M620,346.2 621.2,355 617.5,365 615,372.5 607.5,377.5 606.2,387.5 605,391.2 606.2,397.5 607.5,406.2 610,412.5 607.5,418.8 605,420 602.5,416.2 602.5,410 607.5,406.2" fill="none" stroke="#5a2a1c" stroke-width="0.8"/>
<path d="M650,458.8 657.5,462.5 665,457.5 675,458.8 682.5,456.2 690,455 688.8,447.5 693.8,440 700,436.2 708.8,436.2" fill="none" stroke="#5a2a1c" stroke-width="0.8"/>
<path d="M701.2,340 700,347.5 703.8,357.5 706.2,367.5 708.8,377.5 710,385 711.2,391.2" fill="none" stroke="#5a2a1c" stroke-width="0.8"/>
<path d="M760,413.8 770,412.5 776.2,415 785,412.5 795,411.2 806.2,413.8" fill="none" stroke="#5a2a1c" stroke-width="0.8"/>
<path d="M763.8,442.5 770,440 780,435 787.5,428.8 797.5,427.5 803.8,426.2" fill="none" stroke="#5a2a1c" stroke-width="0.8"/>
<path d="M752.5,448 750,452.5 740,450 735,457.5 735,465 732.5,466.2" fill="none" stroke="#5a2a1c" stroke-width="0.8"/>
<path d="M681.2,467.5 690,473.8 697.5,477.5" fill="none" stroke="#5a2a1c" stroke-width="0.8"/>
<path d="M735,470 740,475 750,481.2 760,483.8 768.8,482.5" fill="none" stroke="#5a2a1c" stroke-width="0.8"/>
<path d="M810,433.8 805,445 801.2,457.5 797.5,467.5 792.5,473.8 790,480" fill="none" stroke="#5a2a1c" stroke-width="0.8"/>
<path d="M821.8,505 825.5,510 843,510 860.5,505 873,496.2 885.5,495 900.5,496.2" fill="none" stroke="#5a2a1c" stroke-width="0.8"/>
<path d="M612.5,487.5 611.2,492.5 608.8,500 612.5,505" fill="none" stroke="#5a2a1c" stroke-width="0.8"/>
<path d="M796.2,317.5 800,321.2" fill="none" stroke="#5a2a1c" stroke-width="0.8"/>
<path d="M422.5,507.9 421.4,516.4 420.4,525 422.5,532.5 418.2,534.6" fill="none" stroke="#b96a5e" stroke-width="0.65"/>
<path d="M421.4,516.4 432.1,517.5 442.9,518.6 451.4,521.8 460,527.1 470.7,525 475,531.4 472.8,536.8 475,543.2 481.4,545.4 486.8,547.5" fill="none" stroke="#b96a5e" stroke-width="0.65"/>
<path d="M418.2,565.7 425.7,563.6 434.3,573.2 442.9,573.2 450.4,570 455.7,562.5 464.3,558.2 472.8,559.3 481.4,563.6 486.8,559.3 488.9,550.7 486.8,547.5" fill="none" stroke="#b96a5e" stroke-width="0.65"/>
<path d="M450.4,570 455.7,576.4 464.3,578.6 465.4,570 462.1,561.4 455.7,562.5" fill="none" stroke="#b96a5e" stroke-width="0.65"/>
<path d="M434.3,573.2 433.2,580.7 439.6,588.2 438.6,593.6 433.2,598.9 425.7,602.1 420.4,607.5 412.9,609.6 405.4,604.3" fill="none" stroke="#b96a5e" stroke-width="0.65"/>
<path d="M433.2,598.9 442.9,605.3 455.7,608.6 466.4,610.7 470.7,615 470.7,619.3 477.1,623.6 481.4,628.9" fill="none" stroke="#b96a5e" stroke-width="0.65"/>
<path d="M470.7,615 477.1,612.8 485.7,610.7 491.1,611.8 493.2,623.6" fill="none" stroke="#b96a5e" stroke-width="0.65"/>
<path d="M486.8,559.3 485.7,574.3 490,582.9 495.3,587.1 488.9,593.6 486.8,602.1 491.1,611.8" fill="none" stroke="#b96a5e" stroke-width="0.65"/>
<path d="M525.3,541.1 521.1,550.7 517.8,563.6 512.5,573.2 507.1,577.5 502.8,585 495.3,587.1" fill="none" stroke="#b96a5e" stroke-width="0.65"/>
<path d="M492.1,548.6 488.9,550.7" fill="none" stroke="#b96a5e" stroke-width="0.65"/>
<path d="M516.1,423.6 518.2,434.3 512.9,440.7 506.4,445 500,449.3" fill="none" stroke="#cb6e4c" stroke-width="0.55"/>
<path d="M518.2,434.3 530,431.1 540.7,426.8 549.3,422.5 552.5,417.1 562.1,419.3 572.8,416.1 579.3,410.7" fill="none" stroke="#cb6e4c" stroke-width="0.55"/>
<path d="M552.5,426.8 560,424.6 566.4,427.9 564.3,435.4 555.7,436.4 551.4,432.1 552.5,426.8" fill="none" stroke="#cb6e4c" stroke-width="0.55"/>
<path d="M579.3,410.7 577.1,423.6 575,434.3 581.4,442.9 590,449.3 598.6,447.1 607.1,449.3 611.4,455.7" fill="none" stroke="#cb6e4c" stroke-width="0.55"/>
<path d="M530,431.1 527.9,442.9 524.6,455.7 534.3,464.3 542.9,468.6 553.6,467.5 562.1,457.9 564.3,447.1 564.3,435.4" fill="none" stroke="#cb6e4c" stroke-width="0.55"/>
<path d="M564.3,447.1 575,442.9 581.4,442.9" fill="none" stroke="#cb6e4c" stroke-width="0.55"/>
<path d="M562.1,457.9 568.6,468.6 579.3,472.9 590,466.4 598.6,470.7 602.8,479.3" fill="none" stroke="#cb6e4c" stroke-width="0.55"/>
<path d="M500,449.3 512.9,455.7 524.6,455.7" fill="none" stroke="#cb6e4c" stroke-width="0.55"/>
<path d="M542.9,468.6 551.4,477.1 555.7,487.8 551.4,498.6 540.7,505 532.1,511.4 523.6,517.8 516.1,522.1 515,532.8" fill="none" stroke="#cb6e4c" stroke-width="0.55"/>
<path d="M555.7,487.8 564.3,496.4 572.8,500.7 581.4,505 583.6,515.7" fill="none" stroke="#cb6e4c" stroke-width="0.55"/>
<path d="M640.5,334.7 648.4,339.2 657.4,341.4 664.1,337" fill="none" stroke="#cb6e4c" stroke-width="0.55"/>
<path d="M619.2,366.2 628.2,363.9 634.9,368.4 641.7,366.2 646.2,375.1 638.3,377.4 632.7,386.4 634.9,393.1" fill="none" stroke="#cb6e4c" stroke-width="0.55"/>
<path d="M657.4,341.4 666.4,348.2 679.8,347.1 691.1,343.7 700.1,350.4" fill="none" stroke="#cb6e4c" stroke-width="0.55"/>
<path d="M657.4,341.4 659.6,354.9 666.4,366.2 664.1,377.4 673.1,384.1 679.8,379.6 688.8,386.4 695.6,384.1 706.8,387.5" fill="none" stroke="#cb6e4c" stroke-width="0.55"/>
<path d="M646.2,375.1 655.1,381.9 664.1,377.4" fill="none" stroke="#cb6e4c" stroke-width="0.55"/>
<path d="M655.1,381.9 657.4,393.1 668.6,397.6 679.8,395.4 682.1,404.3" fill="none" stroke="#cb6e4c" stroke-width="0.55"/>
<path d="M634.9,393.1 641.7,399.8 650.6,402.1 657.4,393.1" fill="none" stroke="#cb6e4c" stroke-width="0.55"/>
<path d="M650.6,402.1 652.9,415.6 657.4,429 655.1,444.8 657.4,456" fill="none" stroke="#cb6e4c" stroke-width="0.55"/>
<path d="M612.5,404.3 621.4,399.8 634.9,393.1" fill="none" stroke="#cb6e4c" stroke-width="0.55"/>
<path d="M621.4,399.8 625.9,411.1 630.4,422.3" fill="none" stroke="#cb6e4c" stroke-width="0.55"/>
<path d="M729.3,322.4 733.8,334.7 727,343.7 733.8,352.7 747.2,350.4 760.7,343.7 769.7,337 778.7,323.5" fill="none" stroke="#cb6e4c" stroke-width="0.55"/>
<path d="M702.3,354.9 715.8,357.2 727,343.7" fill="none" stroke="#cb6e4c" stroke-width="0.55"/>
<path d="M715.8,357.2 718,370.6 724.8,379.6 720.3,388.6 729.3,395.4" fill="none" stroke="#cb6e4c" stroke-width="0.55"/>
<path d="M733.8,352.7 736,366.2 747.2,372.9 760.7,368.4 771.9,361.7 783.2,366.2 792.2,359.4 805.6,357.2" fill="none" stroke="#cb6e4c" stroke-width="0.55"/>
<path d="M747.2,372.9 745,384.1 751.7,393.1 747.2,402.1 756.2,408.8" fill="none" stroke="#cb6e4c" stroke-width="0.55"/>
<path d="M771.9,361.7 774.2,375.1 767.4,386.4 774.2,395.4 785.4,399.8 783.2,411.1" fill="none" stroke="#cb6e4c" stroke-width="0.55"/>
<path d="M792.2,359.4 787.7,345.9 778.7,323.5" fill="none" stroke="#cb6e4c" stroke-width="0.55"/>
<path d="M785.4,399.8 796.6,395.4 812.4,397.6" fill="none" stroke="#cb6e4c" stroke-width="0.55"/>
<path d="M704.6,396.5 706.8,404.3 697.8,411.1 686.6,414.4" fill="none" stroke="#b96a5e" stroke-width="0.6"/>
<path d="M706.8,404.3 715.8,402.1 719.2,410 712.4,417.8 700.1,420.1 697.8,411.1" fill="none" stroke="#b96a5e" stroke-width="0.6"/>
<path d="M712.4,417.8 715.8,429" fill="none" stroke="#b96a5e" stroke-width="0.6"/>
<path d="M719.2,410 733.8,413.3 736,404.3 733.8,399.8" fill="none" stroke="#b96a5e" stroke-width="0.6"/>
<path d="M733.8,413.3 745,426.8 740.5,435.8" fill="none" stroke="#b96a5e" stroke-width="0.6"/>
<path d="M745,426.8 756.2,420.1" fill="none" stroke="#b96a5e" stroke-width="0.6"/>
<path d="M736,404.3 747.2,411.1 756.2,420.1" fill="none" stroke="#b96a5e" stroke-width="0.6"/>
<path d="M708.6,408.2 708.463,408.889 708.073,409.473 707.489,409.863 706.8,410 706.111,409.863 705.527,409.473 705.137,408.889 705,408.2 705.137,407.511 705.527,406.927 706.111,406.537 706.8,406.4 707.489,406.537 708.073,406.927 708.463,407.511Z" fill="none" stroke="#b96a5e" stroke-width="0.6"/>
<path d="M747.5,457.5 752.5,465 750,475" fill="none" stroke="#cb6e4c" stroke-width="0.55"/>
<path d="M765,450 767.5,462.5 762.5,475 767.5,482.5" fill="none" stroke="#cb6e4c" stroke-width="0.55"/>
<path d="M780,437.5 782.5,450 776.2,462.5 767.5,462.5" fill="none" stroke="#cb6e4c" stroke-width="0.55"/>
<path d="M782.5,450 795,452.5 800,462.5" fill="none" stroke="#cb6e4c" stroke-width="0.55"/>
<path d="M692.5,447.5 697.5,457.5 705,462.5 715,460 725,465 730,467.5" fill="none" stroke="#cb6e4c" stroke-width="0.55"/>
<path d="M715,460 717.5,450 712.5,440" fill="none" stroke="#cb6e4c" stroke-width="0.55"/>
<path d="M725,465 735,456.2" fill="none" stroke="#cb6e4c" stroke-width="0.55"/>
<path d="M815,462.5 825,467.5 837.5,460 847.5,450 857.5,445 865,435" fill="none" stroke="#cb6e4c" stroke-width="0.55"/>
<path d="M825,467.5 830,480 820,487.5 815,500" fill="none" stroke="#cb6e4c" stroke-width="0.55"/>
<path d="M830,480 845,482.5 855,475 865,477.5 875,467.5 890,462.5" fill="none" stroke="#cb6e4c" stroke-width="0.55"/>
<path d="M845,482.5 847.5,497.5 860,500" fill="none" stroke="#cb6e4c" stroke-width="0.55"/>
<path d="M865,477.5 867.5,490 862.5,500" fill="none" stroke="#cb6e4c" stroke-width="0.55"/>
<path d="M867.5,490 880,487.5 892.5,490" fill="none" stroke="#cb6e4c" stroke-width="0.55"/>
<path d="M847.5,450 840,437.5 842.5,430" fill="none" stroke="#cb6e4c" stroke-width="0.55"/>
<path d="M847.5,512.5 852.5,525 847.5,535 840,545" fill="none" stroke="#cb6e4c" stroke-width="0.55"/>
<path d="M852.5,525 865,522.5 875,527.5 877.5,540" fill="none" stroke="#cb6e4c" stroke-width="0.55"/>
<path d="M865,522.5 867.5,510" fill="none" stroke="#cb6e4c" stroke-width="0.55"/>
<path d="M775,425 777.5,432.5 772.5,440" fill="none" stroke="#cb6e4c" stroke-width="0.55"/>
<path d="M790,420 792.5,430 785,435" fill="none" stroke="#cb6e4c" stroke-width="0.55"/>
<path d="M655,505 665,500 675,502.5 682.5,497.5" fill="none" stroke="#cb6e4c" stroke-width="0.55"/>
<path d="M665,500 662.5,487.5 655,482.5" fill="none" stroke="#cb6e4c" stroke-width="0.55"/>
<path d="M675,502.5 677.5,512.5 670,522.5 660,525" fill="none" stroke="#cb6e4c" stroke-width="0.55"/>
<path d="M677.5,512.5 687.5,517.5" fill="none" stroke="#cb6e4c" stroke-width="0.55"/>
<path d="M670,522.5 675,532.5 680,537.5" fill="none" stroke="#cb6e4c" stroke-width="0.55"/>
<path d="M695,540 702.5,547.5 700,555 707.5,562.5 715,560" fill="none" stroke="#cb6e4c" stroke-width="0.55"/>
<path d="M700,555 690,562.5" fill="none" stroke="#cb6e4c" stroke-width="0.55"/>
<path d="M715,560 720,572.5 732.5,575 740,570" fill="none" stroke="#cb6e4c" stroke-width="0.55"/>
<path d="M707.5,477.5 715,480 717.5,487.5" fill="none" stroke="#b88a80" stroke-width="0.6"/>
<path d="M697.3,132.2 709.8,144.7 720.7,152.2" fill="none" stroke="#cb6e4c" stroke-width="0.55"/>
<path d="M684.8,189.6 697.3,199.6 709.8,192.1 719.7,197.6" fill="none" stroke="#cb6e4c" stroke-width="0.55"/>
<path d="M678.8,234.5 694.8,244.5 712.3,235.5" fill="none" stroke="#cb6e4c" stroke-width="0.55"/>
<path d="M702.3,239.5 707.3,264.5 703.8,284.4" fill="none" stroke="#cb6e4c" stroke-width="0.55"/>
<path d="M754.7,164.7 774.6,149.7 799.6,144.7 814.6,124.8" fill="none" stroke="#797979" stroke-width="0.6"/>
<path d="M774.6,149.7 779.6,174.7 764.7,189.6" fill="none" stroke="#797979" stroke-width="0.6"/>
<path d="M779.6,174.7 804.6,169.7 824.5,154.7" fill="none" stroke="#797979" stroke-width="0.6"/>
<path d="M804.6,169.7 809.6,194.6 789.6,209.6" fill="none" stroke="#797979" stroke-width="0.6"/>
<path d="M632.4,194.6 639.9,209.6 634.9,229.5 644.9,244.5" fill="none" stroke="#b88a3a" stroke-width="0.6"/>
<path d="M639.9,209.6 659.9,204.6 669.8,219.6" fill="none" stroke="#b88a3a" stroke-width="0.6"/>
<path d="M659.9,204.6 664.9,189.6" fill="none" stroke="#b88a3a" stroke-width="0.6"/>
<path d="M839.2,273.8 850.5,272.5 868,275 875.5,290 888,300 899.2,306.2 898,317.5 889.2,320 891.8,330 898,335 888,342.5 888,350.8" fill="none" stroke="#c2c2c2" stroke-width="0.7"/>
<path d="M898,335 908,327.5 918,323.8 925.5,330 930.5,340 943,342.5 948,348.8" fill="none" stroke="#c2c2c2" stroke-width="0.7"/>
<path d="M888,340 890.5,350 885.5,353.8 868,352.5 850.5,355 830.5,356.2 815.5,362.5 813,367.5" fill="none" stroke="#c2c2c2" stroke-width="0.7"/>
<path d="M948,340 948,350 963,347.5 975.5,343.8 993,345 1005.5,347.5 1009.2,355 1010.5,365 1014.2,375 1008,380 1001.8,387.5 1000.5,395 1008,393.8" fill="none" stroke="#c2c2c2" stroke-width="0.7"/>
<path d="M859.2,421.2 868,416.2 878,415 888,420 893,427.5 898,435 905.5,442.5 904.2,447.5 895.5,452.5 893,460 893,467.5" fill="none" stroke="#c2c2c2" stroke-width="0.7"/>
<path d="M771.8,496.2 777.4,505.1 779.7,514.1 776.3,523.1 779.7,529.8 773,534.3 769.6,541.1 769.6,545.6" fill="none" stroke="#c2c2c2" stroke-width="0.7"/>
<path d="M779.7,529.8 786.4,532.1 790.9,538.8 786.4,547.8 783.1,552.3 786.4,561.3" fill="none" stroke="#c2c2c2" stroke-width="0.7"/>
<path d="M790.9,538.8 795.4,529.8 802.2,528.7 808.9,534.3 813.4,541.1 806.6,545.6 799.9,550.1 795.4,545.6 790.9,538.8" fill="none" stroke="#c2c2c2" stroke-width="0.7"/>
<path d="M799.9,550.1 798.8,559 801,568 806.6,574.8 808.9,574.8 815.6,568" fill="none" stroke="#c2c2c2" stroke-width="0.7"/>
<path d="M806.6,545.6 815.6,547.8 822.4,538.8" fill="none" stroke="#c2c2c2" stroke-width="0.7"/>
<path d="M498,306.5 506.3,302.4 514.6,296.8 521.5,291.3" fill="none" stroke="#c6c6c6" stroke-width="0.7"/>
<path d="M510.4,327.2 518.7,330 521.5,341.1 517.4,349.4 518.7,360.4 511.8,366" fill="none" stroke="#c6c6c6" stroke-width="0.7"/>
<path d="M712.19,506.28 711.92,506.79 711.29,507 710.65,506.79 710.39,506.28 710.65,505.77 711.29,505.56 711.92,505.77Z" fill="#3a2a30" stroke="#3a3020" stroke-width="0.5"/>
<path d="M716.34,507.66 716.07,508.17 715.44,508.38 714.8,508.17 714.54,507.66 714.8,507.15 715.44,506.94 716.07,507.15Z" fill="#3a2a30" stroke="#3a3020" stroke-width="0.5"/>
<path d="M720.49,515.96 720.22,516.47 719.59,516.68 718.95,516.47 718.69,515.96 718.95,515.45 719.59,515.24 720.22,515.45Z" fill="#3a2a30" stroke="#3a3020" stroke-width="0.5"/>
<path d="M723.8,521.49 723.54,522 722.9,522.21 722.27,522 722,521.49 722.27,520.98 722.9,520.77 723.54,520.98Z" fill="#3a2a30" stroke="#3a3020" stroke-width="0.5"/>
<path d="M739.85,531.18 739.59,531.68 738.95,531.9 738.31,531.68 738.05,531.18 738.31,530.67 738.95,530.46 739.59,530.67Z" fill="#3a2a30" stroke="#3a3020" stroke-width="0.5"/>
<path d="M744,536.71 743.73,537.22 743.1,537.43 742.46,537.22 742.2,536.71 742.46,536.2 743.1,535.99 743.73,536.2Z" fill="#3a2a30" stroke="#3a3020" stroke-width="0.5"/>
<path d="M748.15,538.09 747.88,538.6 747.25,538.81 746.61,538.6 746.35,538.09 746.61,537.58 747.25,537.37 747.88,537.58Z" fill="#3a2a30" stroke="#3a3020" stroke-width="0.5"/>
<path d="M750.91,536.71 750.65,537.22 750.01,537.43 749.38,537.22 749.11,536.71 749.38,536.2 750.01,535.99 750.65,536.2Z" fill="#3a2a30" stroke="#3a3020" stroke-width="0.5"/>
<path d="M731,554.69 730.73,555.2 730.1,555.41 729.46,555.2 729.2,554.69 729.46,554.18 730.1,553.97 730.73,554.18Z" fill="#3a2a30" stroke="#3a3020" stroke-width="0.5"/>
<path d="M742.06,550.54 741.8,551.05 741.16,551.26 740.53,551.05 740.26,550.54 740.53,550.03 741.16,549.82 741.8,550.03Z" fill="#3a2a30" stroke="#3a3020" stroke-width="0.5"/>
<path d="M657.69,545.56 657.43,546.07 656.79,546.28 656.15,546.07 655.89,545.56 656.15,545.05 656.79,544.84 657.43,545.05Z" fill="#3a2a30" stroke="#3a3020" stroke-width="0.5"/>
<path d="M651.88,541.41 651.62,541.92 650.98,542.13 650.35,541.92 650.08,541.41 650.35,540.9 650.98,540.69 651.62,540.9Z" fill="#3a2a30" stroke="#3a3020" stroke-width="0.5"/>
<path d="M666.54,554.14 666.28,554.64 665.64,554.86 665.01,554.64 664.74,554.14 665.01,553.63 665.64,553.42 666.28,553.63Z" fill="#3a2a30" stroke="#3a3020" stroke-width="0.5"/>
<path d="M688.12,561.6 687.86,562.11 687.22,562.32 686.58,562.11 686.32,561.6 686.58,561.1 687.22,560.88 687.86,561.1Z" fill="#3a2a30" stroke="#3a3020" stroke-width="0.5"/>
<path d="M709.42,582.35 709.16,582.86 708.52,583.07 707.88,582.86 707.62,582.35 707.88,581.84 708.52,581.63 709.16,581.84Z" fill="#3a2a30" stroke="#3a3020" stroke-width="0.5"/>
<path d="M629.2,577.37 628.94,577.88 628.3,578.09 627.66,577.88 627.4,577.37 627.66,576.86 628.3,576.65 628.94,576.86Z" fill="#3a2a30" stroke="#3a3020" stroke-width="0.5"/>
<path d="M629.2,613.33 628.94,613.84 628.3,614.05 627.66,613.84 627.4,613.33 627.66,612.82 628.3,612.61 628.94,612.82Z" fill="#3a2a30" stroke="#3a3020" stroke-width="0.5"/>
<path d="M603.8,343 603.57,343.45 603,343.64 602.43,343.45 602.2,343 602.43,342.55 603,342.36 603.57,342.55Z" fill="#3a2a30" stroke="#3a3020" stroke-width="0.5"/>
<path d="M607.8,341 607.57,341.45 607,341.64 606.43,341.45 606.2,341 606.43,340.55 607,340.36 607.57,340.55Z" fill="#3a2a30" stroke="#3a3020" stroke-width="0.5"/>
<path d="M612.8,339.5 612.57,339.95 612,340.14 611.43,339.95 611.2,339.5 611.43,339.05 612,338.86 612.57,339.05Z" fill="#3a2a30" stroke="#3a3020" stroke-width="0.5"/>
<path d="M618.8,338 618.57,338.45 618,338.64 617.43,338.45 617.2,338 617.43,337.55 618,337.36 618.57,337.55Z" fill="#3a2a30" stroke="#3a3020" stroke-width="0.5"/>
<path d="M642.8,326 642.57,326.45 642,326.64 641.43,326.45 641.2,326 641.43,325.55 642,325.36 642.57,325.55Z" fill="#3a2a30" stroke="#3a3020" stroke-width="0.5"/>
<path d="M641.8,332 641.57,332.45 641,332.64 640.43,332.45 640.2,332 640.43,331.55 641,331.36 641.57,331.55Z" fill="#3a2a30" stroke="#3a3020" stroke-width="0.5"/>
<path d="M640.8,338 640.57,338.45 640,338.64 639.43,338.45 639.2,338 639.43,337.55 640,337.36 640.57,337.55Z" fill="#3a2a30" stroke="#3a3020" stroke-width="0.5"/>
<path d="M646.8,316 646.57,316.45 646,316.64 645.43,316.45 645.2,316 645.43,315.55 646,315.36 646.57,315.55Z" fill="#3a2a30" stroke="#3a3020" stroke-width="0.5"/>
<path d="M648.8,310 648.57,310.45 648,310.64 647.43,310.45 647.2,310 647.43,309.55 648,309.36 648.57,309.55Z" fill="#3a2a30" stroke="#3a3020" stroke-width="0.5"/>
<path d="M679.55,93.12 679.32,93.58 678.75,93.77 678.18,93.58 677.95,93.12 678.18,92.67 678.75,92.48 679.32,92.67Z" fill="#3a3a50" stroke="#3a3020" stroke-width="0.5"/>
<path d="M672.05,98.12 671.82,98.58 671.25,98.77 670.68,98.58 670.45,98.12 670.68,97.67 671.25,97.48 671.82,97.67Z" fill="#3a3a50" stroke="#3a3020" stroke-width="0.5"/>
<path d="M670.17,103.75 669.94,104.2 669.38,104.39 668.81,104.2 668.58,103.75 668.81,103.3 669.38,103.11 669.94,103.3Z" fill="#3a3a50" stroke="#3a3020" stroke-width="0.5"/>
<path d="M670.17,108.75 669.94,109.2 669.38,109.39 668.81,109.2 668.58,108.75 668.81,108.3 669.38,108.11 669.94,108.3Z" fill="#3a3a50" stroke="#3a3020" stroke-width="0.5"/>
<path d="M670.8,113.75 670.57,114.2 670,114.39 669.43,114.2 669.2,113.75 669.43,113.3 670,113.11 670.57,113.3Z" fill="#3a3a50" stroke="#3a3020" stroke-width="0.5"/>
<path d="M667.67,118.75 667.44,119.2 666.88,119.39 666.31,119.2 666.08,118.75 666.31,118.3 666.88,118.11 667.44,118.3Z" fill="#3a3a50" stroke="#3a3020" stroke-width="0.5"/>
<path d="M666.42,87.5 666.19,87.95 665.62,88.14 665.06,87.95 664.83,87.5 665.06,87.05 665.62,86.86 666.19,87.05Z" fill="#3a3a50" stroke="#3a3020" stroke-width="0.5"/>
<path d="M899.2,552.9 908,548 917.7,547.2 924.1,548 927.3,550.4 922.5,553.7 916.1,556.9 908,559.3 901.6,560.9 898.4,558.5Z" fill="#fff" stroke="#c4c4c4" stroke-width="0.5"/>
<path d="M884,570.5 892,564.1 899.2,556.1 900.8,558.5 893.6,566.5 886.4,572.9Z" fill="#fff" stroke="none" stroke-width="0"/>
</g>
<g id="legend">
<g id="logo">
<path d="M43.5,15.8 Q46.5,14.2 52.6,12.7 Q58.7,11.2 61.8,9.4 Q64.8,7.6 66.8,8.9 Q68.8,10.2 70.8,14.2 Q72.9,18.3 74.9,21.4 Q76.9,24.4 76.9,28.9 Q76.9,33.5 75.4,35.0 Q73.9,36.6 70.3,37.6 Q66.8,38.6 61.7,39.4 Q56.6,40.1 51.5,40.4 Q46.5,40.6 41.4,40.6 Q36.3,40.6 31.2,40.6 Q26.2,40.6 25.4,39.4 Q24.6,38.1 26.4,37.4 Q28.2,36.6 30.2,35.5 Q32.3,34.5 32.3,30.4 Q32.3,26.4 32.8,23.4 Q33.3,20.3 34.8,19.8 Q36.3,19.3 38.3,20.8 Q40.4,22.3 40.4,19.8 Q40.4,17.3 43.5,15.8Z" fill="#a4cc72"/>
<path d="M34,28 Q37,24 41,26 Q40,30 36,31Z M52,15 Q55,13 58,15 Q55,18 52,17Z M68,27 Q71,26 72,29 Q70,31 68,30Z" fill="#fff" opacity="0.7"/>
<path d="M26.7,17.8 Q36.3,12.2 42.4,10.9 Q48.5,9.6 55.1,9.9 Q61.7,10.2 70.8,13.2" fill="none" stroke="#1b3a66" stroke-width="1.6" stroke-linecap="round"/>
<path d="M21.6,30.5 Q36.3,25.9 42.9,24.9 Q49.5,23.9 57.1,23.5 Q64.8,23.2 81.0,26.4" fill="none" stroke="#1b3a66" stroke-width="1.6" stroke-linecap="round"/>
<path d="M24.1,43.7 Q36.3,43.2 42.9,42.7 Q49.5,42.1 57.1,41.1 Q64.8,40.1 81.0,36.1" fill="none" stroke="#1b3a66" stroke-width="1.6" stroke-linecap="round"/>
<path d="M39.4,5.6 Q31.2,15.2 30.9,22.9 Q30.7,30.5 32.0,36.6 Q33.3,42.7 36.8,50.8" fill="none" stroke="#1b3a66" stroke-width="1.6" stroke-linecap="round"/>
<path d="M23.6,24.4 Q21.6,33.5 22.9,38.6 Q24.1,43.7 30.2,52.8" fill="none" stroke="#1b3a66" stroke-width="1.6" stroke-linecap="round"/>
<path d="M46.0,5.6 Q47.5,20.3 48.5,26.9 Q49.5,33.5 51.0,40.6" fill="none" stroke="#1b3a66" stroke-width="1.6" stroke-linecap="round"/>
<path d="M51.5,4.6 Q60.7,11.2 62.8,16.8 Q64.8,22.3 65.3,27.9 Q65.8,33.5 65.8,40.6" fill="none" stroke="#1b3a66" stroke-width="1.6" stroke-linecap="round"/>
<path d="M65.8,8.1 Q74.9,17.3 76.7,21.9 Q78.5,26.4 78.2,31.5 Q78.0,36.6 75.9,43.7" fill="none" stroke="#1b3a66" stroke-width="1.6" stroke-linecap="round"/>
<text x="38.8" y="67.6" font-size="35.5" textLength="76.4" lengthAdjust="spacingAndGlyphs" stroke-width="0.7" font-family='"Liberation Sans",sans-serif'><tspan fill="#1b3a66" stroke="#1b3a66">e</tspan><tspan fill="#6db33f" stroke="#6db33f">cd</tspan><tspan fill="#1b3a66" stroke="#1b3a66">c</tspan></text>
<rect x="90.5" y="38" width="8" height="10.4" fill="#fff"/>
<path d="M95.2,53 C94.6,48 90.5,43 89.3,38 C88.8,34.5 92,32.6 96,32.8" fill="none" stroke="#6db33f" stroke-width="3" stroke-linecap="round"/>
<ellipse cx="95.8" cy="33.3" rx="3.6" ry="2.1" transform="rotate(-12 95.8 33.3)" fill="#6db33f"/>
<rect x="40.1" y="75.1" width="18.8" height="12.2" fill="#23429a"/>
<circle cx="49.50" cy="77.60" r="0.45" fill="#e8d44a"/>
<circle cx="51.30" cy="78.08" r="0.45" fill="#e8d44a"/>
<circle cx="52.62" cy="79.40" r="0.45" fill="#e8d44a"/>
<circle cx="53.10" cy="81.20" r="0.45" fill="#e8d44a"/>
<circle cx="52.62" cy="83.00" r="0.45" fill="#e8d44a"/>
<circle cx="51.30" cy="84.32" r="0.45" fill="#e8d44a"/>
<circle cx="49.50" cy="84.80" r="0.45" fill="#e8d44a"/>
<circle cx="47.70" cy="84.32" r="0.45" fill="#e8d44a"/>
<circle cx="46.38" cy="83.00" r="0.45" fill="#e8d44a"/>
<circle cx="45.90" cy="81.20" r="0.45" fill="#e8d44a"/>
<circle cx="46.38" cy="79.40" r="0.45" fill="#e8d44a"/>
<circle cx="47.70" cy="78.08" r="0.45" fill="#e8d44a"/>
<text x="62.4" y="78.2" font-size="4.3" textLength="51.3" lengthAdjust="spacingAndGlyphs" font-weight="bold" fill="#1b3a66" font-family='"Liberation Sans",sans-serif' >EUROPEAN CENTRE FOR</text>
<text x="62.4" y="82.6" font-size="4.3" textLength="45.6" lengthAdjust="spacingAndGlyphs" font-weight="bold" fill="#1b3a66" font-family='"Liberation Sans",sans-serif' >DISEASE PREVENTION</text>
<text x="62.4" y="87.1" font-size="4.3" textLength="33.1" lengthAdjust="spacingAndGlyphs" font-weight="bold" fill="#1b3a66" font-family='"Liberation Sans",sans-serif' >AND CONTROL</text>
</g>
<text x="20.7" y="107.2" font-size="13.3" textLength="310.9" lengthAdjust="spacingAndGlyphs" font-weight="bold" fill="#111" font-family='"DejaVu Sans","Liberation Sans",sans-serif' >14-day notification rate and test positivity</text>
<text x="20.7" y="125.2" font-size="13.3" textLength="188.1" lengthAdjust="spacingAndGlyphs" font-weight="bold" fill="#111" font-family='"DejaVu Sans","Liberation Sans",sans-serif' >for EU/EEA weeks 04 - 05</text>
<rect x="53.7" y="159.1" width="55.4" height="27.4" rx="0.8" fill="#7d1912" stroke="#5e4218" stroke-width="0.9"/>
<rect x="111" y="159.1" width="55.9" height="27.4" rx="0.8" fill="#7d1912" stroke="#5e4218" stroke-width="0.9"/>
<rect x="53.7" y="188.5" width="55.4" height="27.5" rx="0.8" fill="#bb401c" stroke="#5e4218" stroke-width="0.9"/>
<rect x="111" y="188.5" width="55.9" height="27.5" rx="0.8" fill="#bb401c" stroke="#5e4218" stroke-width="0.9"/>
<rect x="53.7" y="218.4" width="55.4" height="27.6" rx="0.8" fill="#f1a731" stroke="#5e4218" stroke-width="0.9"/>
<rect x="111" y="218.4" width="55.9" height="27.6" rx="0.8" fill="#bb401c" stroke="#5e4218" stroke-width="0.9"/>
<rect x="53.7" y="248.9" width="55.4" height="27.1" rx="0.8" fill="#f1a731" stroke="#5e4218" stroke-width="0.9"/>
<rect x="111" y="248.9" width="55.9" height="27.1" rx="0.8" fill="#f1a731" stroke="#5e4218" stroke-width="0.9"/>
<rect x="53.7" y="278.5" width="55.4" height="27.9" rx="0.8" fill="#69b42e" stroke="#5e4218" stroke-width="0.9"/>
<rect x="111" y="278.5" width="55.9" height="27.9" rx="0.8" fill="#f1a731" stroke="#5e4218" stroke-width="0.9"/>
<path d="M36.25,310 V163" stroke="#111" stroke-width="1.3" fill="none"/>
<path d="M36.25,155.3 L39.7,165.2 L32.8,165.2 Z" fill="#111"/>
<path d="M48.2,324.7 H168" stroke="#111" stroke-width="1.3" fill="none"/>
<path d="M176.2,324.7 L166.2,328.1 L166.2,321.3 Z" fill="#111"/>
<text transform="translate(49.2,172.8) rotate(-90)" text-anchor="middle" font-size="7.1" textLength="17.5" lengthAdjust="spacingAndGlyphs" fill="#151515">≥500</text>
<text transform="translate(49.3,202.3) rotate(-90)" text-anchor="middle" font-size="7.1" textLength="26.5" lengthAdjust="spacingAndGlyphs" fill="#151515">150-499</text>
<text transform="translate(49.3,232.6) rotate(-90)" text-anchor="middle" font-size="7.1" textLength="24.5" lengthAdjust="spacingAndGlyphs" fill="#151515">50-149</text>
<text transform="translate(49.3,262.5) rotate(-90)" text-anchor="middle" font-size="7.1" textLength="19.5" lengthAdjust="spacingAndGlyphs" fill="#151515">25-49</text>
<text transform="translate(49.3,292.5) rotate(-90)" text-anchor="middle" font-size="7.1" textLength="12.5" lengthAdjust="spacingAndGlyphs" fill="#151515">&lt;25</text>
<text transform="translate(30.4,233.3) rotate(-90)" text-anchor="middle" font-size="7.6" textLength="162.5" lengthAdjust="spacingAndGlyphs" fill="#151515">14-day notification rate per 100 000 population</text>
<text x="80" y="318" text-anchor="middle" font-size="7.1" textLength="16" lengthAdjust="spacingAndGlyphs" fill="#151515">&lt;4%</text>
<text x="137" y="318" text-anchor="middle" font-size="7.1" textLength="16.5" lengthAdjust="spacingAndGlyphs" fill="#151515">≥4%</text>
<text x="111.3" y="336.3" text-anchor="middle" font-size="7.6" textLength="46.5" lengthAdjust="spacingAndGlyphs" fill="#151515">Positivity rate</text>
<rect x="16.9" y="348.8" width="36.2" height="18.4" rx="0.6" fill="#bdbdbd" stroke="#5a5a5a" stroke-width="0.8"/>
<rect x="16.9" y="373.8" width="36.2" height="17.8" rx="0.6" fill="#8b8b8b" stroke="#5a5a5a" stroke-width="0.8"/>
<rect x="16.9" y="397.8" width="36.2" height="18.2" rx="0.6" fill="#e4e4e4" stroke="#5a5a5a" stroke-width="0.8"/>
<text x="60.9" y="363.2" font-size="12" textLength="228.8" lengthAdjust="spacingAndGlyphs" fill="#151515" >Testing rate &lt; 300 per 100 000 population</text>
<text x="60.9" y="387.2" font-size="12" textLength="257.8" lengthAdjust="spacingAndGlyphs" fill="#151515" >No data available on number of tests performed</text>
<text x="60.9" y="411.3" font-size="12" textLength="67.8" lengthAdjust="spacingAndGlyphs" fill="#151515" >Not included</text>
<text x="16.8" y="450.5" font-size="14" textLength="121.1" lengthAdjust="spacingAndGlyphs" fill="#151515" >Regions not visible</text>
<text x="16.8" y="467.5" font-size="14" textLength="151.9" lengthAdjust="spacingAndGlyphs" fill="#151515" >in the main map extent</text>
<rect x="17.4" y="479.2" width="35" height="16.4" rx="0.6" fill="#f1a731" stroke="#7a5a3a" stroke-width="0.8"/>
<rect x="17.4" y="502.5" width="35" height="16.5" rx="0.6" fill="#f1a731" stroke="#7a5a3a" stroke-width="0.8"/>
<rect x="17.4" y="526.5" width="35" height="16.5" rx="0.6" fill="#f1a731" stroke="#7a5a3a" stroke-width="0.8"/>
<rect x="17.4" y="550.3" width="35" height="17" rx="0.6" fill="#f1a731" stroke="#7a5a3a" stroke-width="0.8"/>
<rect x="150.3" y="480.3" width="35.2" height="16.1" rx="0.6" fill="#bb401c" stroke="#7a5a3a" stroke-width="0.8"/>
<rect x="150.3" y="502.7" width="35.2" height="16.7" rx="0.6" fill="#bb401c" stroke="#7a5a3a" stroke-width="0.8"/>
<rect x="150.3" y="527" width="35.2" height="16" rx="0.6" fill="#7d1912" stroke="#7a5a3a" stroke-width="0.8"/>
<rect x="150.3" y="550.3" width="35.2" height="17" rx="0.6" fill="#7d1912" stroke="#7a5a3a" stroke-width="0.8"/>
<text x="59.7" y="492.3" font-size="12" textLength="36.3" lengthAdjust="spacingAndGlyphs" fill="#151515" >Azores</text>
<text x="59.7" y="508.2" font-size="9" textLength="52" lengthAdjust="spacingAndGlyphs" fill="#151515" >Guadeloupe</text>
<text x="59.7" y="520.2" font-size="9" textLength="71.3" lengthAdjust="spacingAndGlyphs" fill="#151515" >and Saint Martin</text>
<text x="59.7" y="540.2" font-size="12" textLength="60.4" lengthAdjust="spacingAndGlyphs" fill="#151515" >La Reunion</text>
<text x="59.7" y="563.2" font-size="12" textLength="57.6" lengthAdjust="spacingAndGlyphs" fill="#151515" >Martinique</text>
<text x="192.3" y="493.4" font-size="12" textLength="80.4" lengthAdjust="spacingAndGlyphs" fill="#151515" >Canary Islands</text>
<text x="192.3" y="515.6" font-size="12" textLength="41.4" lengthAdjust="spacingAndGlyphs" fill="#151515" >Guyane</text>
<text x="192.3" y="539.4" font-size="12" textLength="43.2" lengthAdjust="spacingAndGlyphs" fill="#151515" >Madeira</text>
<text x="192.3" y="562.6" font-size="12" textLength="44" lengthAdjust="spacingAndGlyphs" fill="#151515" >Mayotte</text>
<text x="20" y="625" font-size="14" textLength="131.5" lengthAdjust="spacingAndGlyphs" fill="#151515" >Countries not visible</text>
<text x="20" y="642" font-size="14" textLength="152" lengthAdjust="spacingAndGlyphs" fill="#151515" >in the main map extent</text>
<rect x="20.9" y="653.7" width="35.1" height="17.7" rx="0.6" fill="#bb401c" stroke="#7a5a3a" stroke-width="0.8"/>
<rect x="150.3" y="655.3" width="35.2" height="16.1" rx="0.6" fill="#8b8b8b" stroke="#555" stroke-width="0.8"/>
<text x="63.8" y="665.7" font-size="12" textLength="29.5" lengthAdjust="spacingAndGlyphs" fill="#151515" >Malta</text>
<text x="192.9" y="667.3" font-size="12" textLength="71.3" lengthAdjust="spacingAndGlyphs" fill="#151515" >Liechtenstein</text>
<text x="6.6" y="708" font-size="8.3" textLength="517.8" lengthAdjust="spacingAndGlyphs" fill="#151515" >Administrative boundaries: © EuroGeographics © UN–FAO © Turkstat.©Kartverket©Instituto Nacional de Estatística - Statistics Portugal.</text>
<text x="6.6" y="718.1" font-size="8.3" textLength="597.8" lengthAdjust="spacingAndGlyphs" fill="#151515" >The boundaries and names shown on this map do not imply official endorsement or acceptance by the European Union. ECDC. Map produced on: 10 Feb 2021</text>
</g>
</svg>
</body></html>
